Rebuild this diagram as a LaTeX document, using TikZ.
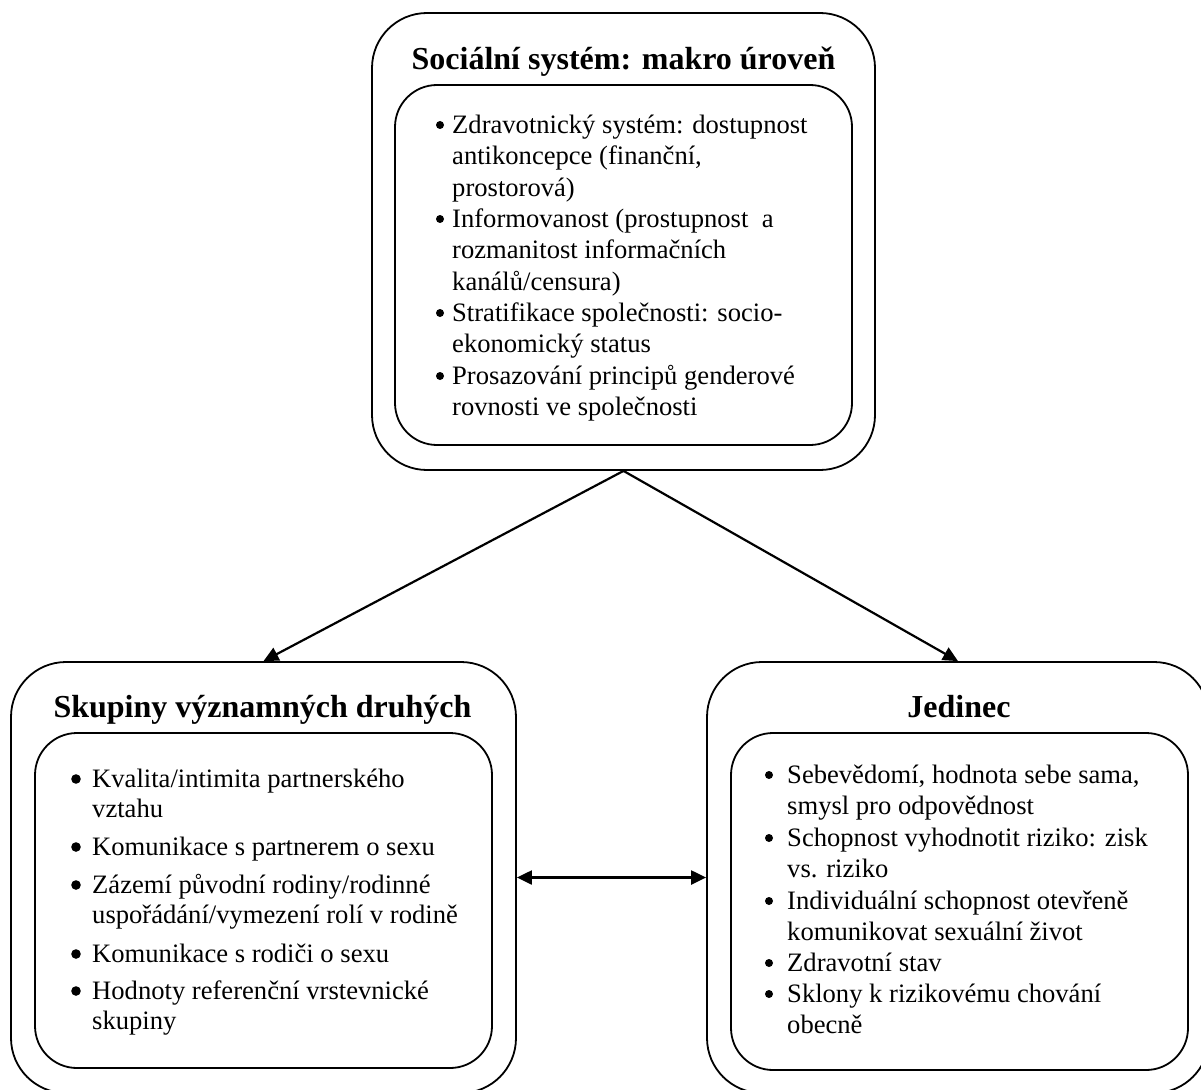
\documentclass[tikz,border=0pt]{standalone}
\usepackage{fontspec}
\setmainfont{Liberation Serif}
\usetikzlibrary{arrows.meta}
\begin{document}
\begin{tikzpicture}[x=1pt,y=-1pt,
  outerbox/.style={draw,line width=1.8pt,rounded corners=55pt,inner sep=0pt},
  innerbox/.style={draw,line width=1.8pt,rounded corners=42pt,inner sep=0pt},
  ttl/.style={font=\fontsize{32}{38}\selectfont\bfseries,anchor=base,inner sep=0pt},
  txt/.style={font=\fontsize{26.6}{31}\selectfont,anchor=base west,inner sep=0pt},
  conn/.style={line width=2.2pt,-{Triangle[length=15pt,width=14pt]}},
  dconn/.style={line width=2.2pt,{Triangle[length=15pt,width=14pt]}-{Triangle[length=15pt,width=14pt]}}]
\useasboundingbox (0,0) rectangle (1201,1089);
\clip (0,0) rectangle (1201,1089);
\fill[white] (0,0) rectangle (1201,1089);

% boxes
\node[outerbox,minimum width=503pt,minimum height=457pt] (top) at (623.5,241.5) {};
\node[innerbox,minimum width=457pt,minimum height=360pt] (topin) at (623.5,265) {};
\node[outerbox,minimum width=505pt,minimum height=431pt] (left) at (263.5,877.5) {};
\node[innerbox,minimum width=457pt,minimum height=335pt] (leftin) at (263.5,900.5) {};
\node[outerbox,minimum width=502pt,minimum height=431pt] (right) at (958,877.5) {};
\node[innerbox,minimum width=457pt,minimum height=337pt] (rightin) at (959.5,901.5) {};

% titles
\node[ttl] (toptitle) at (623.5,70) {Sociální systém: makro úroveň};
\node[ttl] (lefttitle) at (262.5,717) {Skupiny významných druhých};
\node[ttl] (righttitle) at (959,717) {Jedinec};

% top items
\node[txt] (t1) at (452,133) {Zdravotnický systém: dostupnost};
\node[txt] (t2) at (452,164.5) {antikoncepce (finanční,};
\node[txt] (t3) at (452,196) {prostorová)};
\node[txt] (t4) at (452,227) {Informovanost (prostupnost\ \ a};
\node[txt] (t5) at (452,258.5) {rozmanitost informačních};
\node[txt] (t6) at (452,290) {kanálů/censura)};
\node[txt] (t7) at (452,321) {Stratifikace společnosti: socio-};
\node[txt] (t8) at (452,352.5) {ekonomický status};
\node[txt] (t9) at (452,384) {Prosazování principů genderové};
\node[txt] (t10) at (452,415) {rovnosti ve společnosti};
\foreach \yy in {133,227,321,384} \fill (440,\yy-8) circle (4pt);

% left items
\node[txt] (l1) at (92,787) {Kvalita/intimita partnerského};
\node[txt] (l2) at (92,817) {vztahu};
\node[txt] (l3) at (92,855) {Komunikace s partnerem o sexu};
\node[txt] (l4) at (92,893) {Zázemí původní rodiny/rodinné};
\node[txt] (l5) at (92,923) {uspořádání/vymezení rolí v rodině};
\node[txt] (l6) at (92,962) {Komunikace s rodiči o sexu};
\node[txt] (l7) at (92,999) {Hodnoty referenční vrstevnické};
\node[txt] (l8) at (92,1029) {skupiny};
\foreach \yy in {787,855,893,962,999} \fill (76,\yy-8) circle (4.8pt);

% right items
\node[txt] (r1) at (787,783) {Sebevědomí, hodnota sebe sama,};
\node[txt] (r2) at (787,814) {smysl pro odpovědnost};
\node[txt] (r3) at (787,846) {Schopnost vyhodnotit riziko: zisk};
\node[txt] (r4) at (787,877) {vs. riziko};
\node[txt] (r5) at (787,909) {Individuální schopnost otevřeně};
\node[txt] (r6) at (787,940) {komunikovat sexuální život};
\node[txt] (r7) at (787,971) {Zdravotní stav};
\node[txt] (r8) at (787,1002) {Sklony k rizikovému chování};
\node[txt] (r9) at (787,1033) {obecně};
\foreach \yy in {783,846,909,971,1002} \fill (769,\yy-8) circle (4pt);

% connectors
\draw[conn] (top.south) -- (left.north);
\draw[conn] (top.south) -- (right.north);
\draw[dconn] (left.east) -- (right.west);
\end{tikzpicture}
\end{document}
